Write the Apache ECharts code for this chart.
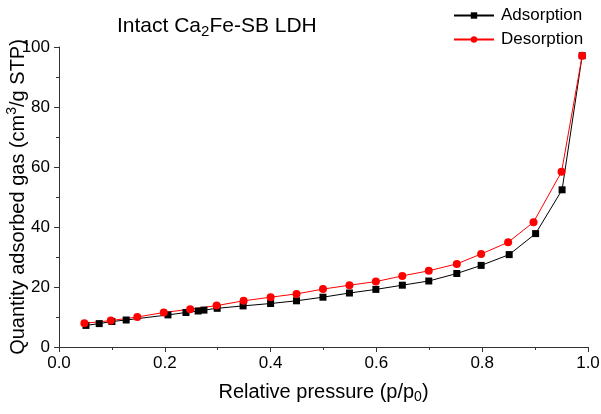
<!DOCTYPE html>
<html>
<head>
<meta charset="utf-8">
<script src="https://cdn.jsdelivr.net/npm/echarts@6/dist/echarts.min.js"></script>
<style>html,body{margin:0;padding:0;background:#fff}#c{width:601px;height:414px}</style>
</head>
<body>
<div id="c"></div>
<script>
var adsP = [0.051, 0.076, 0.10, 0.127, 0.206, 0.24, 0.263, 0.274, 0.299, 0.348, 0.40, 0.449, 0.499, 0.549, 0.599, 0.649, 0.699, 0.752, 0.798, 0.851, 0.901, 0.951, 0.989];
var adsV = [7.2, 7.8, 8.5, 9.0, 10.7, 11.5, 12.0, 12.3, 12.9, 13.7, 14.5, 15.4, 16.6, 18.0, 19.2, 20.6, 22.0, 24.5, 27.2, 30.8, 37.8, 52.4, 97.1];
var desP = [0.048, 0.098, 0.148, 0.198, 0.248, 0.298, 0.349, 0.40, 0.449, 0.499, 0.549, 0.599, 0.649, 0.699, 0.752, 0.798, 0.849, 0.897, 0.95, 0.989];
var desV = [7.9, 8.8, 10.0, 11.5, 12.6, 13.8, 15.4, 16.6, 17.7, 19.3, 20.6, 21.8, 23.7, 25.4, 27.7, 31.0, 34.9, 41.6, 58.4, 97.1];
var xTicks = ['0.0', '0.2', '0.4', '0.6', '0.8', '1.0'];
var yTicks = ['0', '20', '40', '60', '80', '100'];

function pairs(p, v) { return p.map(function (x, i) { return [x, v[i]]; }); }

var font = 'Liberation Sans, Arial, sans-serif';
var chart = echarts.init(document.getElementById('c'), null, {renderer: 'canvas'});
chart.setOption({
  animation: false,
  backgroundColor: '#fff',
  textStyle: {fontFamily: font},
  grid: {left: 59, right: 13, top: 47, bottom: 67, containLabel: false, outerBoundsMode: 'none'},
  title: {
    text: 'Intact Ca{sub|2}Fe-SB LDH',
    left: 117, top: 13, padding: 0,
    textStyle: {
      fontFamily: font, fontSize: 21, fontWeight: 'normal', color: '#000', lineHeight: 26,
      rich: {sub: {fontFamily: font, fontSize: 15, color: '#000', lineHeight: 26, padding: [12, 0, 0, 0]}}
    }
  },
  legend: {
    orient: 'vertical', left: 453, top: 6, itemGap: 5, itemWidth: 40, itemHeight: 8, padding: 0,
    textStyle: {fontFamily: font, fontSize: 17, color: '#000', lineHeight: 19, padding: [0, 0, 0, 2]},
    data: ['Adsorption', 'Desorption']
  },
  xAxis: {
    type: 'value', min: 0, max: 1, interval: 0.2,
    name: 'Relative pressure (p/p{sub|0})', nameLocation: 'middle', nameGap: 33, nameMoveOverlap: false,
    nameTextStyle: {fontFamily: font, fontSize: 20, color: '#000', lineHeight: 24,
      rich: {sub: {fontFamily: font, fontSize: 14, color: '#000', padding: [11, 0, 0, 0], lineHeight: 24}}},
    axisLine: {show: true, onZero: false, lineStyle: {color: '#333', width: 1}},
    axisTick: {show: true, inside: false, length: 5, lineStyle: {color: '#333'}},
    minorTick: {show: true, splitNumber: 2, length: 3, lineStyle: {color: '#333'}},
    splitLine: {show: false},
    axisLabel: {fontFamily: font, fontSize: 17, color: '#000', margin: 8,
      formatter: function (v) { return xTicks[Math.round(v / 0.2)]; }}
  },
  yAxis: {
    type: 'value', min: 0, max: 100, interval: 20,
    name: 'Quantity adsorbed gas (cm{sup|3}/g STP)', nameLocation: 'middle', nameGap: 29, nameRotate: 90, nameMoveOverlap: false,
    nameTextStyle: {fontFamily: font, fontSize: 20, color: '#000', lineHeight: 24,
      rich: {sup: {fontFamily: font, fontSize: 14, color: '#000', padding: [0, 0, 11, 0], lineHeight: 24}}},
    axisLine: {show: true, onZero: false, lineStyle: {color: '#333', width: 1}},
    axisTick: {show: true, inside: false, length: 5, lineStyle: {color: '#333'}},
    minorTick: {show: true, splitNumber: 2, length: 3, lineStyle: {color: '#333'}},
    splitLine: {show: false},
    axisLabel: {fontFamily: font, fontSize: 17, color: '#000', margin: 9,
      formatter: function (v) { return yTicks[Math.round(v / 20)]; }}
  },
  series: [
    {
      name: 'Adsorption', type: 'line', data: pairs(adsP, adsV),
      symbol: 'rect', symbolSize: 7, color: '#000',
      lineStyle: {color: '#000', width: 1}, itemStyle: {color: '#000'}
    },
    {
      name: 'Desorption', type: 'line', data: pairs(desP, desV),
      symbol: 'circle', symbolSize: 8, color: '#ff0000',
      lineStyle: {color: '#ff0000', width: 1}, itemStyle: {color: '#ff0000'}
    }
  ]
});
</script>
</body>
</html>
